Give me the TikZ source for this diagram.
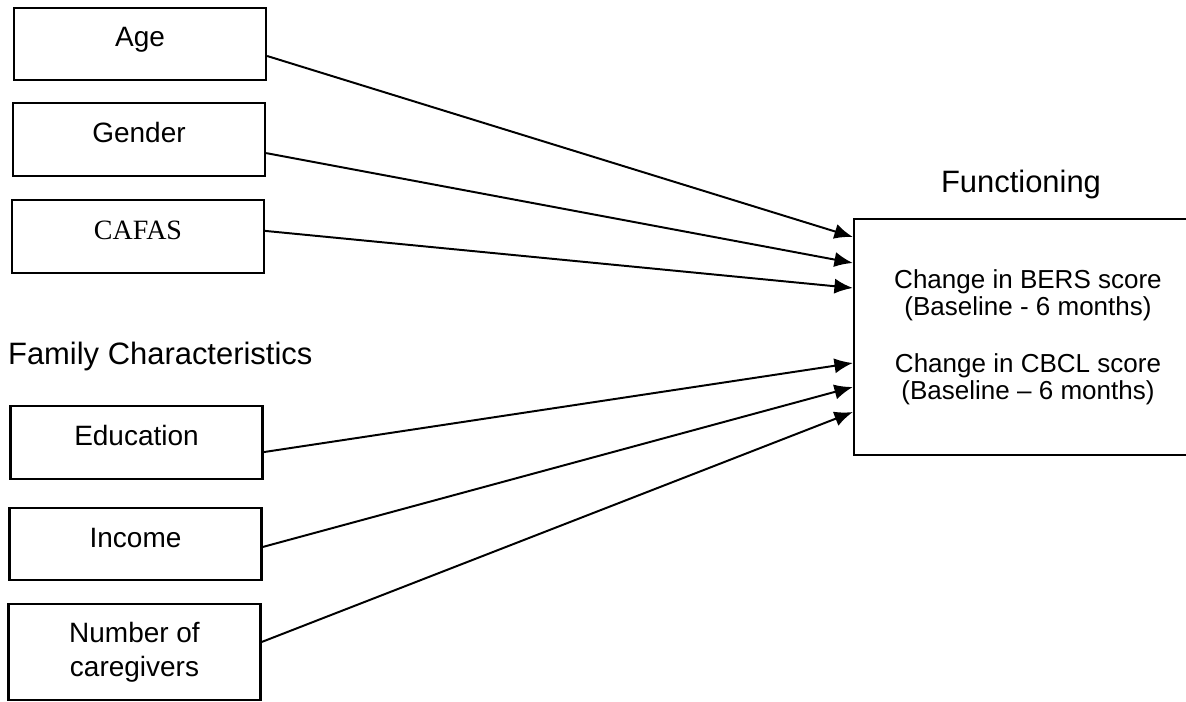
\documentclass[tikz,border=0pt]{standalone}
\usepackage{fontspec}
\setmainfont{Liberation Sans}
\newfontfamily\cafasfont{Liberation Serif}
\usetikzlibrary{arrows.meta}
\begin{document}
\begin{tikzpicture}[x=0.025cm, y=-0.025cm, line width=1.6pt,
  var/.style={draw, minimum width=6.3cm, minimum height=1.81cm, inner sep=0pt,
    align=center, font=\fontsize{19.9}{24.1}\selectfont},
  oneline/.style={text height=0.525cm, text depth=0.375cm},
  heading/.style={inner sep=0pt, font=\fontsize{22}{26}\selectfont},
  link/.style={line width=1.4pt, -{Latex[length=0.46cm, width=0.38cm]}}]
\path[use as bounding box, clip] (0,0) rectangle (1186,702);
% child characteristics
\node[var, oneline] (age) at (140,44) {Age};
\node[var, oneline] (gender) at (139,139.5) {Gender};
\node[var, oneline, font=\cafasfont\fontsize{19.9}{24.1}\selectfont] (cafas) at (138,236.5) {CAFAS};
% family characteristics
\node[heading, anchor=base west] (famlabel) at (7,365) {Family Characteristics};
\node[var, oneline] (educ) at (136.5,442.5) {Education};
\node[var, oneline] (income) at (135.5,544) {Income};
\node[var, minimum height=2.4cm] (carers) at (134.5,652) {Number of\\caregivers};
% outcome
\node[heading, anchor=base] (funclabel) at (1021,193) {Functioning};
\node[draw, minimum width=8.7cm, minimum height=5.9cm, align=center,
  font=\fontsize{18.5}{19.2}\selectfont] (func) at (1028,337)
  {Change in BERS score\\(Baseline - 6 months)\\[21.2pt]Change in CBCL score\\(Baseline -- 6 months)};
% paths: source / start shift / end shift (cm)
\foreach \src/\a/\b in {age/-0.3/2.5, gender/-0.34/1.85, cafas/0.14/1.225,
  educ/-0.24/-0.65, income/-0.075/-1.25, carers/0.25/-1.875}
  \draw[link] ([yshift=\a cm]\src.east) -- ([yshift=\b cm]func.west);
\end{tikzpicture}
\end{document}
